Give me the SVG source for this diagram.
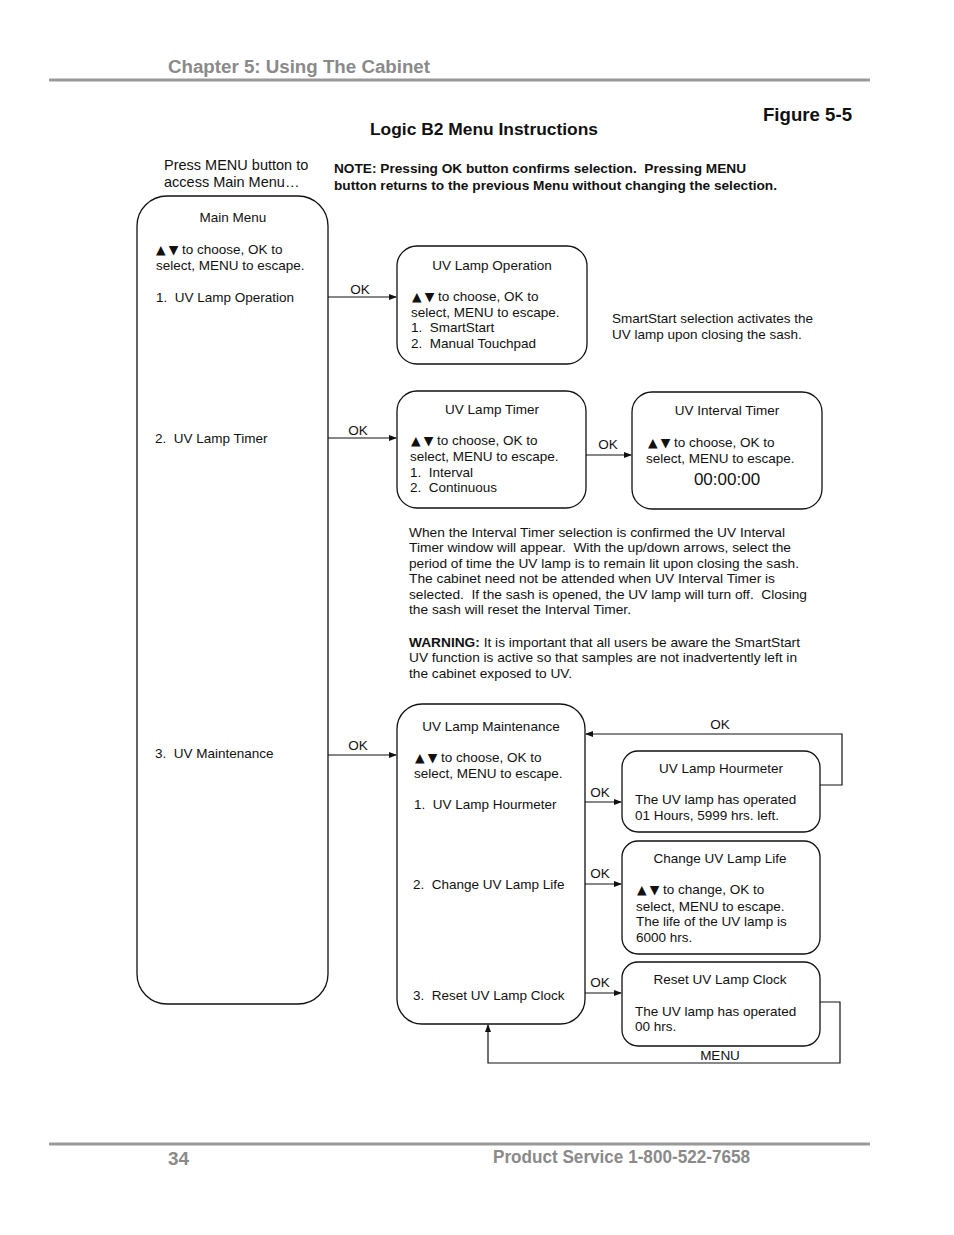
<svg xmlns="http://www.w3.org/2000/svg" width="954" height="1235" viewBox="0 0 954 1235">
<defs>
<style>
text{font-family:"Liberation Sans",Arial,sans-serif;fill:#111}
.t{font-size:13.5px}
.c{text-anchor:middle}
.b{font-weight:bold}
.g{fill:#8a8a8a;font-weight:bold}
.tri{font-family:"DejaVu Sans",sans-serif;font-size:12.5px}
.box{fill:#fff;stroke:#111;stroke-width:1.3}
.ln{fill:none;stroke:#111;stroke-width:1.2}
.rule{stroke:#999;stroke-width:3}
</style>
<marker id="ah" markerWidth="8" markerHeight="8" refX="7" refY="4" orient="auto" markerUnits="userSpaceOnUse">
<path d="M0,1 L8,4 L0,7 Z" fill="#111"/>
</marker>
</defs>
<rect width="954" height="1235" fill="#fff"/>

<g id="header">
<text x="168" y="73" class="g" font-size="18" textLength="262" lengthAdjust="spacingAndGlyphs">Chapter 5: Using The Cabinet</text>
<line x1="49" y1="80" x2="870" y2="80" class="rule"/>
<text x="763" y="121" class="b" font-size="18" textLength="89" lengthAdjust="spacingAndGlyphs">Figure 5-5</text>
<text x="370" y="135" class="b" font-size="16.5" textLength="228" lengthAdjust="spacingAndGlyphs">Logic B2 Menu Instructions</text>
<text x="164" y="170" font-size="14.5">Press MENU button to</text>
<text x="164" y="187" font-size="14.5">access Main Menu…</text>
<text x="334" y="173" class="b" font-size="13" textLength="412" lengthAdjust="spacingAndGlyphs">NOTE: Pressing OK button confirms selection.&#160; Pressing MENU</text>
<text x="334" y="190" class="b" font-size="13" textLength="443" lengthAdjust="spacingAndGlyphs">button returns to the previous Menu without changing the selection.</text>
</g>

<g id="main-menu">
<rect x="137" y="196" width="191" height="808" rx="30" class="box"/>
<text x="233" y="222" class="t c">Main Menu</text>
<text x="156" y="254" class="t"><tspan class="tri">▲</tspan><tspan class="tri" dx="3">▼</tspan> to choose, OK to</text>
<text x="156" y="270" class="t">select, MENU to escape.</text>
<text x="156" y="302" class="t">1.&#160; UV Lamp Operation</text>
<text x="155" y="443" class="t">2.&#160; UV Lamp Timer</text>
<text x="155" y="758" class="t">3.&#160; UV Maintenance</text>
</g>

<g id="uv-lamp-operation">
<rect x="397" y="246" width="190" height="118" rx="20" class="box"/>
<text x="492" y="270" class="t c">UV Lamp Operation</text>
<text x="412" y="301" class="t"><tspan class="tri">▲</tspan><tspan class="tri" dx="3">▼</tspan> to choose, OK to</text>
<text x="411" y="317" class="t">select, MENU to escape.</text>
<text x="411" y="332" class="t">1.&#160; SmartStart</text>
<text x="411" y="348" class="t">2.&#160; Manual Touchpad</text>
</g>

<g id="smartstart-note">
<text x="612" y="323" class="t">SmartStart selection activates the</text>
<text x="612" y="339" class="t">UV lamp upon closing the sash.</text>
</g>

<g id="uv-lamp-timer">
<rect x="397" y="391" width="189" height="117" rx="20" class="box"/>
<text x="492" y="414" class="t c">UV Lamp Timer</text>
<text x="411" y="445" class="t"><tspan class="tri">▲</tspan><tspan class="tri" dx="3">▼</tspan> to choose, OK to</text>
<text x="410" y="461" class="t">select, MENU to escape.</text>
<text x="410" y="477" class="t">1.&#160; Interval</text>
<text x="410" y="492" class="t">2.&#160; Continuous</text>
</g>

<g id="uv-interval-timer">
<rect x="632" y="392" width="190" height="117" rx="20" class="box"/>
<text x="727" y="415" class="t c">UV Interval Timer</text>
<text x="648" y="447" class="t"><tspan class="tri">▲</tspan><tspan class="tri" dx="3">▼</tspan> to choose, OK to</text>
<text x="646" y="463" class="t">select, MENU to escape.</text>
<text x="727" y="485" class="c" font-size="17">00:00:00</text>
</g>

<g id="interval-note">
<text x="409" y="537" class="t" textLength="376" lengthAdjust="spacingAndGlyphs">When the Interval Timer selection is confirmed the UV Interval</text>
<text x="409" y="552" class="t" textLength="382" lengthAdjust="spacingAndGlyphs">Timer window will appear.&#160; With the up/down arrows, select the</text>
<text x="409" y="568" class="t" textLength="390" lengthAdjust="spacingAndGlyphs">period of time the UV lamp is to remain lit upon closing the sash.</text>
<text x="409" y="583" class="t" textLength="366" lengthAdjust="spacingAndGlyphs">The cabinet need not be attended when UV Interval Timer is</text>
<text x="409" y="599" class="t" textLength="398" lengthAdjust="spacingAndGlyphs">selected.&#160; If the sash is opened, the UV lamp will turn off.&#160; Closing</text>
<text x="409" y="614" class="t" textLength="222" lengthAdjust="spacingAndGlyphs">the sash will reset the Interval Timer.</text>
<text x="409" y="647" class="t" textLength="391" lengthAdjust="spacingAndGlyphs"><tspan class="b">WARNING:</tspan> It is important that all users be aware the SmartStart</text>
<text x="409" y="662" class="t" textLength="388" lengthAdjust="spacingAndGlyphs">UV function is active so that samples are not inadvertently left in</text>
<text x="409" y="678" class="t" textLength="163" lengthAdjust="spacingAndGlyphs">the cabinet exposed to UV.</text>
</g>

<g id="uv-lamp-maintenance">
<rect x="397" y="704" width="188" height="320" rx="25" class="box"/>
<text x="491" y="731" class="t c">UV Lamp Maintenance</text>
<text x="415" y="762" class="t"><tspan class="tri">▲</tspan><tspan class="tri" dx="3">▼</tspan> to choose, OK to</text>
<text x="414" y="778" class="t">select, MENU to escape.</text>
<text x="414" y="809" class="t">1.&#160; UV Lamp Hourmeter</text>
<text x="413" y="889" class="t">2.&#160; Change UV Lamp Life</text>
<text x="413" y="1000" class="t">3.&#160; Reset UV Lamp Clock</text>
</g>

<g id="uv-lamp-hourmeter">
<rect x="622" y="751" width="198" height="81" rx="16" class="box"/>
<text x="721" y="773" class="t c">UV Lamp Hourmeter</text>
<text x="635" y="804" class="t">The UV lamp has operated</text>
<text x="635" y="820" class="t">01 Hours, 5999 hrs. left.</text>
</g>

<g id="change-uv-lamp-life">
<rect x="622" y="841" width="198" height="113" rx="16" class="box"/>
<text x="720" y="863" class="t c">Change UV Lamp Life</text>
<text x="637" y="894" class="t"><tspan class="tri">▲</tspan><tspan class="tri" dx="3">▼</tspan> to change, OK to</text>
<text x="636" y="911" class="t">select, MENU to escape.</text>
<text x="636" y="926" class="t">The life of the UV lamp is</text>
<text x="636" y="942" class="t">6000 hrs.</text>
</g>

<g id="reset-uv-lamp-clock">
<rect x="622" y="962" width="198" height="84" rx="16" class="box"/>
<text x="720" y="984" class="t c">Reset UV Lamp Clock</text>
<text x="635" y="1016" class="t">The UV lamp has operated</text>
<text x="635" y="1031" class="t">00 hrs.</text>
</g>

<g id="connectors">
<line x1="328" y1="297" x2="396" y2="297" class="ln" marker-end="url(#ah)"/>
<text x="360" y="294" class="t c">OK</text>
<line x1="328" y1="438" x2="396" y2="438" class="ln" marker-end="url(#ah)"/>
<text x="358" y="435" class="t c">OK</text>
<line x1="328" y1="755" x2="396" y2="755" class="ln" marker-end="url(#ah)"/>
<text x="358" y="750" class="t c">OK</text>
<line x1="586" y1="455" x2="631" y2="455" class="ln" marker-end="url(#ah)"/>
<text x="608" y="449" class="t c">OK</text>
<line x1="585" y1="802" x2="621" y2="802" class="ln" marker-end="url(#ah)"/>
<text x="600" y="797" class="t c">OK</text>
<line x1="585" y1="884" x2="621" y2="884" class="ln" marker-end="url(#ah)"/>
<text x="600" y="878" class="t c">OK</text>
<line x1="585" y1="993" x2="621" y2="993" class="ln" marker-end="url(#ah)"/>
<text x="600" y="987" class="t c">OK</text>
<polyline points="820,785 842,785 842,734 586,734" class="ln" marker-end="url(#ah)"/>
<text x="720" y="729" class="t c">OK</text>
<polyline points="820,1002 840,1002 840,1063 488,1063 488,1025" class="ln" marker-end="url(#ah)"/>
<text x="720" y="1060" class="t c">MENU</text>
</g>

<g id="footer">
<line x1="49" y1="1144" x2="870" y2="1144" class="rule"/>
<text x="168" y="1165" class="g" font-size="18" textLength="21" lengthAdjust="spacingAndGlyphs">34</text>
<text x="493" y="1163" class="g" font-size="18" textLength="257" lengthAdjust="spacingAndGlyphs">Product Service 1-800-522-7658</text>
</g>
</svg>
